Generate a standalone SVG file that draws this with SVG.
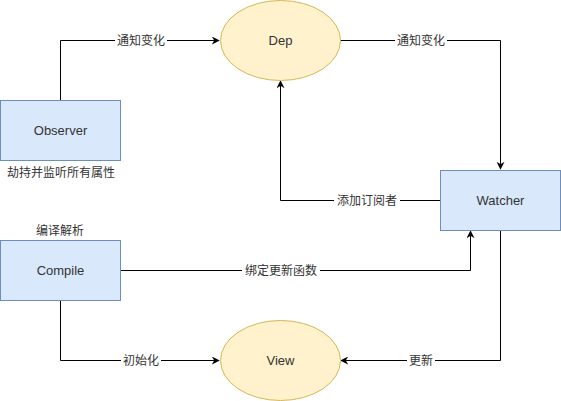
<svg xmlns="http://www.w3.org/2000/svg" width="561" height="401" viewBox="0 0 561 401">
<style>
.box{fill:#dae8fc;stroke:#6c8ebf;stroke-width:1}
.ell{fill:#fff2cc;stroke:#d6b656;stroke-width:1}
.t{font-family:"Liberation Sans","Noto Sans CJK SC",sans-serif;font-size:13px;fill:#333;text-anchor:middle;dominant-baseline:central}
.l{font-family:"Liberation Sans","Noto Sans CJK SC",sans-serif;font-size:12px;fill:#333;text-anchor:middle;dominant-baseline:central}
.e{fill:none;stroke:#000;stroke-width:1}
.bg{fill:#fff}
</style>
<defs>
<marker id="arr" viewBox="0 0 10 10" refX="9" refY="5" markerWidth="8" markerHeight="8" markerUnits="userSpaceOnUse" orient="auto">
<path d="M0,0 L10,5 L0,10 L3,5 z" fill="#000"/>
</marker>
</defs>
<rect width="561" height="401" fill="#fff"/>
<g id="connectors">
<path class="e" d="M60.5,100 V40.5 H219" marker-end="url(#arr)"/>
<path class="e" d="M340,40.5 H500.5 V169" marker-end="url(#arr)"/>
<path class="e" d="M440,200.5 H280.5 V81" marker-end="url(#arr)"/>
<path class="e" d="M120,270.5 H470.5 V231" marker-end="url(#arr)"/>
<path class="e" d="M60.5,300 V360.5 H219" marker-end="url(#arr)"/>
<path class="e" d="M500.5,230 V360.5 H341" marker-end="url(#arr)"/>
<rect class="bg" x="115" y="33" width="52" height="15"/>
<text class="l" x="141" y="40.5">通知变化</text>
<rect class="bg" x="395" y="33" width="52" height="15"/>
<text class="l" x="421" y="40.5">通知变化</text>
<rect class="bg" x="334" y="193" width="66" height="15"/>
<text class="l" x="367" y="200.5">添加订阅者</text>
<rect class="bg" x="242" y="263" width="78" height="15"/>
<text class="l" x="281" y="270.5">绑定更新函数</text>
<rect class="bg" x="121" y="353" width="40" height="15"/>
<text class="l" x="141" y="360.5">初始化</text>
<rect class="bg" x="407" y="353" width="28" height="15"/>
<text class="l" x="421" y="360.5">更新</text>
</g>
<g id="observer">
<rect class="box" x="0.5" y="100.5" width="120" height="60"/>
<text class="t" x="60.5" y="130.5">Observer</text>
<text class="l" x="61" y="173">劫持并监听所有属性</text>
</g>
<g id="dep">
<ellipse class="ell" cx="280.5" cy="40.5" rx="60" ry="40"/>
<text class="t" x="280.5" y="40.5">Dep</text>
</g>
<g id="watcher">
<rect class="box" x="440.5" y="170.5" width="120" height="60"/>
<text class="t" x="500.5" y="200.5">Watcher</text>
</g>
<g id="compile">
<rect class="box" x="0.5" y="240.5" width="120" height="60"/>
<text class="t" x="60.5" y="270.5">Compile</text>
<text class="l" x="60" y="231">编译解析</text>
</g>
<g id="view">
<ellipse class="ell" cx="280.5" cy="360.5" rx="60" ry="40"/>
<text class="t" x="280.5" y="360.5">View</text>
</g>
</svg>
